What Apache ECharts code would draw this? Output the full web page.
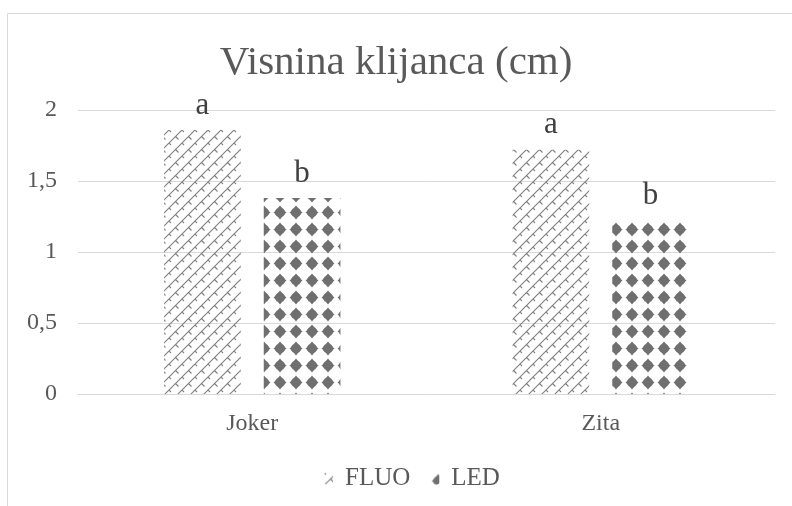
<!DOCTYPE html>
<html>
<head>
<meta charset="utf-8">
<script src="https://cdn.jsdelivr.net/npm/echarts@6/dist/echarts.min.js"></script>
<style>
  html, body { margin: 0; padding: 0; background: #fff; }
  #chart { width: 792px; height: 506px; }
</style>
</head>
<body>
<div id="chart"></div>
<script>
// data
const categories = ["Joker", "Zita"];
const fluoValues = [1.86, 1.72];
const ledValues = [1.38, 1.22];
const fluoLetters = ["a", "a"];
const ledLetters = ["b", "b"];
const yTicks = { min: 0, max: 2, interval: 0.5 };

// diagonal brick pattern (FLUO)
function brickPattern() {
  const c = document.createElement("canvas");
  c.width = 13; c.height = 13;
  const g = c.getContext("2d");
  g.strokeStyle = "#7f7f7f";
  g.lineWidth = 1.1;
  g.beginPath();
  g.moveTo(0, 13); g.lineTo(13, 0);
  g.moveTo(-1, 1); g.lineTo(1, -1);
  g.moveTo(12, 14); g.lineTo(14, 12);
  // brick separators
  g.moveTo(6.5, 6.5); g.lineTo(9.5, 9.5);
  g.moveTo(0, 0); g.lineTo(2, 2);
  g.stroke();
  return c;
}

// dotted pattern (LED)
function dotPattern() {
  const c = document.createElement("canvas");
  c.width = 16; c.height = 17;
  const g = c.getContext("2d");
  g.fillStyle = "#6f6f6f";
  g.beginPath();
  g.arc(8, 8.5, 5, 0, Math.PI * 2);
  g.fill();
  g.beginPath();
  g.moveTo(8, 1.5); g.lineTo(10, 4); g.lineTo(6, 4); g.closePath();
  g.moveTo(8, 15.5); g.lineTo(10, 13); g.lineTo(6, 13); g.closePath();
  g.moveTo(1.5, 8.5); g.lineTo(4, 6.5); g.lineTo(4, 10.5); g.closePath();
  g.moveTo(14.5, 8.5); g.lineTo(12, 6.5); g.lineTo(12, 10.5); g.closePath();
  g.fill();
  return c;
}

const fluoFill = { image: brickPattern(), repeat: "repeat" };
const ledFill = { image: dotPattern(), repeat: "repeat" };

const font = "'Liberation Serif', 'DejaVu Serif', serif";
const chart = echarts.init(document.getElementById("chart"));

const option = {
  backgroundColor: "#fff",
  animation: false,
  graphic: [{
    type: "rect",
    shape: { x: 7.5, y: 13.5, width: 820, height: 600 },
    style: { fill: "none", stroke: "#d9d9d9", lineWidth: 1 },
    silent: true,
    z: -1
  }],
  title: {
    text: "Visnina klijanca (cm)",
    left: "center",
    top: 38,
    textStyle: { fontFamily: font, fontSize: 41, fontWeight: "normal", color: "#595959" }
  },
  legend: {
    bottom: 10,
    left: 319,
    itemWidth: 9,
    itemHeight: 12,
    itemGap: 20,
    textStyle: { fontFamily: font, fontSize: 25, color: "#595959", padding: [0, 0, 0, 7] },
    data: ["FLUO", "LED"]
  },
  grid: { left: 78, right: 17, top: 110, bottom: 112 },
  xAxis: {
    type: "category",
    data: categories,
    axisLine: { lineStyle: { color: "#d9d9d9" } },
    axisTick: { show: false },
    axisLabel: { fontFamily: font, fontSize: 24, color: "#595959", margin: 18 }
  },
  yAxis: {
    type: "value",
    min: yTicks.min,
    max: yTicks.max,
    interval: yTicks.interval,
    axisLine: { show: false },
    axisTick: { show: false },
    splitLine: { lineStyle: { color: "#d9d9d9" } },
    axisLabel: {
      fontFamily: font, fontSize: 24, color: "#595959", margin: 21,
      formatter: v => String(v).replace(".", ",")
    }
  },
  series: [
    {
      name: "FLUO",
      type: "bar",
      data: fluoValues,
      barWidth: "22%",
      barGap: "30%",
      itemStyle: { color: fluoFill },
      label: {
        show: true, position: "top", distance: 9,
        fontFamily: font, fontSize: 31, color: "#404040",
        formatter: p => fluoLetters[p.dataIndex]
      }
    },
    {
      name: "LED",
      type: "bar",
      data: ledValues,
      barWidth: "22%",
      itemStyle: { color: ledFill },
      label: {
        show: true, position: "top", distance: 9,
        fontFamily: font, fontSize: 31, color: "#404040",
        formatter: p => ledLetters[p.dataIndex]
      }
    }
  ]
};
chart.setOption(option);
</script>
</body>
</html>
